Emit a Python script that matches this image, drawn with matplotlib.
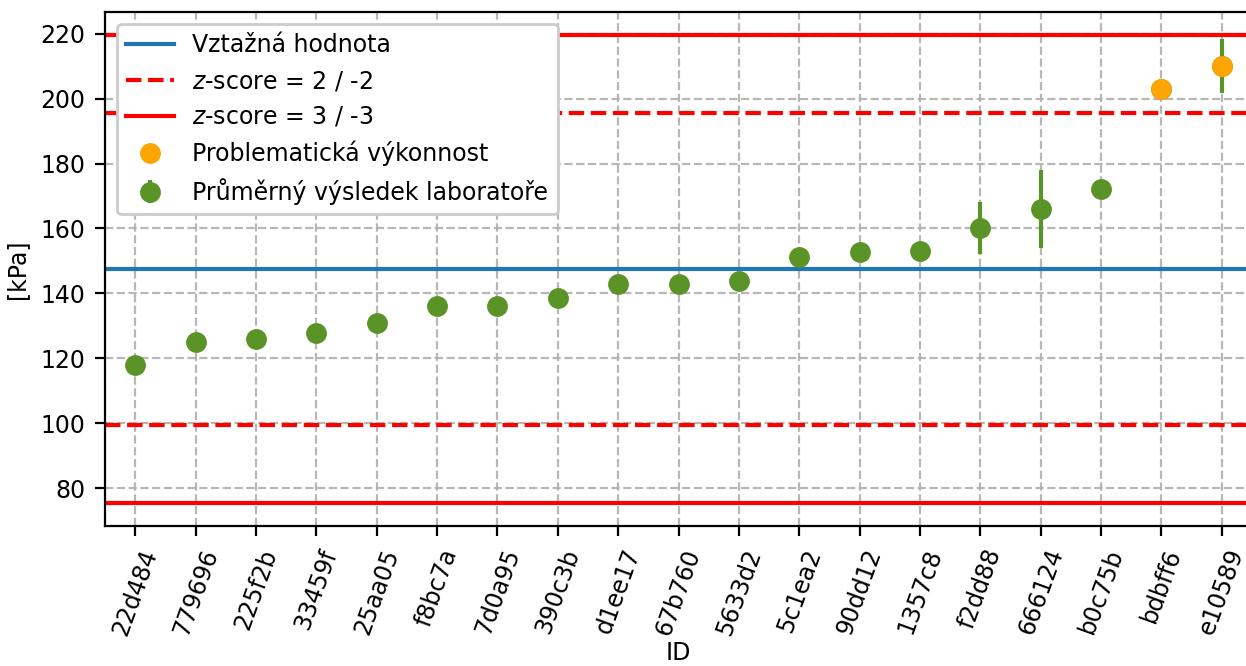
import matplotlib
matplotlib.use('Agg')
import matplotlib.pyplot as plt
from matplotlib.lines import Line2D

ids = ['22d484', '779696', '225f2b', '33459f', '25aa05', 'f8bc7a', '7d0a95',
       '390c3b', 'd1ee17', '67b760', '5633d2', '5c1ea2', '90dd12', '1357c8',
       'f2dd88', '666124', 'b0c75b', 'bdbff6', 'e10589']
values = [117.8, 125.0, 125.8, 127.9, 130.8, 136.0, 136.0, 138.6, 143.0, 143.0,
          143.9, 151.3, 152.7, 153.1, 160.0, 166.0, 172.0, 203.1, 210.0]
errors = [0, 0, 0, 0, 0, 0, 0, 0, 0, 0, 0, 0, 0, 0, 8.0, 12.0, 0, 0, 8.4]
problem = [False] * 17 + [True, True]

ref_value = 147.5
sigma = 24.0

green = '#5b9426'
orange = '#ffa500'

plt.rcParams['font.size'] = 8.5

fig = plt.figure(figsize=(1246 / 200, 666 / 200), dpi=200)
ax = fig.add_axes([0.0843, 0.2102, 0.9205, 0.7718])

x = list(range(len(ids)))

ax.axhline(ref_value, color='tab:blue')
ax.axhline(ref_value + 2 * sigma, color='red', ls='--')
ax.axhline(ref_value - 2 * sigma, color='red', ls='--')
ax.axhline(ref_value + 3 * sigma, color='red')
ax.axhline(ref_value - 3 * sigma, color='red')

eb = ax.errorbar(x, values, yerr=errors, fmt='o', color=green, ms=6.5, capsize=0)
px = [xi for xi, p in zip(x, problem) if p]
pv = [v for v, p in zip(values, problem) if p]
ax.plot(px, pv, 'o', color=orange, ms=6.5, zorder=3)

ax.set_xticks(x)
ax.set_xticklabels(ids, rotation=70)
ax.set_xlim(-0.5, 18.5)
ax.set_xlabel('ID', labelpad=1)
ax.set_ylabel('[kPa]')
ax.grid(True, ls='--', color='#b0b0b0', alpha=0.9)

handles = [
    Line2D([], [], color='tab:blue'),
    Line2D([], [], color='red', ls='--'),
    Line2D([], [], color='red'),
    Line2D([], [], color=orange, marker='o', ms=6.5, ls='none'),
    eb,
]
labels = ['Vztažná hodnota', r'$z$-score = 2 / -2', r'$z$-score = 3 / -3',
          'Problematická výkonnost', 'Průměrný výsledek laboratoře']
ax.legend(handles, labels, loc='upper left', framealpha=1)

fig.savefig('out.png', dpi=200)
